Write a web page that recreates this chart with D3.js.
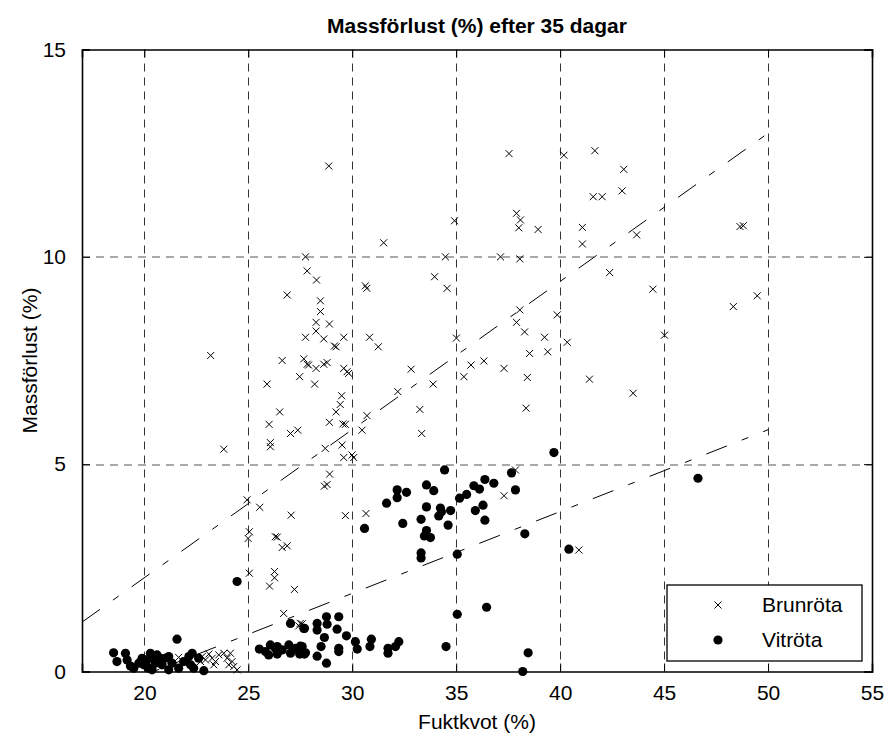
<!DOCTYPE html>
<html>
<head>
<meta charset="utf-8">
<script src="https://cdn.jsdelivr.net/npm/d3@7"></script>
<style>
  body { margin: 0; background: #fff; }
</style>
</head>
<body>
<div id="chart"></div>
<script>
// Axis ticks
var xTicks = [20, 25, 30, 35, 40, 45, 50, 55];
var yTicks = [0, 5, 10, 15];

// Brunröta (crosses)
var brunX = [28.87, 27.75, 27.83, 28.28, 30.63, 30.70, 26.87, 28.47, 28.47, 28.26,
  28.90, 28.26, 27.75, 28.63, 29.59, 29.14, 29.22, 30.83, 31.25, 23.19,
  26.63, 27.67, 27.83, 27.90, 28.26, 28.63, 28.79, 29.59, 29.75, 29.83,
  27.47, 32.83, 25.90, 28.19, 32.19, 33.25, 33.34, 29.49, 29.42, 29.22,
  26.51, 30.71, 26.00, 28.90, 29.55, 29.67, 27.03, 27.38, 30.47, 26.06,
  26.06, 23.82, 28.70, 29.51, 33.89, 38.36, 29.59, 29.99, 30.07, 28.91,
  28.66, 28.79, 29.67, 30.66, 37.30, 37.85, 27.50, 31.51, 34.48, 33.96,
  34.56, 35.01, 35.71, 36.33, 35.37, 34.92, 37.54, 40.18, 41.67, 43.06,
  41.59, 42.02, 42.98, 37.90, 38.09, 38.01, 38.94, 41.07, 41.07, 43.68,
  48.65, 48.81, 37.13, 38.06, 42.38, 44.46, 48.33, 38.06, 37.90, 38.29,
  39.86, 39.25, 40.34, 39.40, 38.53, 37.30, 38.42, 41.41, 43.51, 45.02,
  49.48, 40.90, 25.55, 27.06, 25.05, 24.99, 26.30, 26.39, 26.63, 26.87,
  25.05, 26.26, 26.26, 26.02, 27.22, 26.70, 27.43, 27.59, 24.94, 21.65,
  22.78, 22.94, 23.10, 23.26, 23.42, 23.34, 23.58, 23.82, 23.98, 24.14,
  24.22, 24.06, 24.30, 24.46, 22.70];
var brunY = [12.19, 10.00, 9.66, 9.44, 9.30, 9.24, 9.08, 8.94, 8.68, 8.42,
  8.38, 8.21, 8.06, 8.02, 8.06, 7.85, 7.83, 8.06, 7.83, 7.62,
  7.50, 7.54, 7.41, 7.39, 7.31, 7.41, 7.45, 7.31, 7.23, 7.19,
  7.11, 7.29, 6.93, 6.93, 6.75, 6.32, 5.74, 6.65, 6.44, 6.26,
  6.26, 6.17, 5.96, 6.01, 5.97, 5.96, 5.74, 5.82, 5.82, 5.52,
  5.42, 5.36, 5.38, 5.46, 6.93, 6.35, 5.16, 5.22, 5.16, 4.76,
  4.47, 4.51, 3.76, 3.81, 4.24, 4.86, 1.16, 10.34, 10.00, 9.52,
  9.24, 8.04, 7.39, 7.49, 7.11, 10.87, 12.49, 12.45, 12.56, 12.11,
  11.45, 11.45, 11.59, 11.05, 10.89, 10.70, 10.66, 10.71, 10.31, 10.53,
  10.73, 10.75, 10.00, 9.95, 9.62, 9.22, 8.80, 8.72, 8.42, 8.19,
  8.60, 8.06, 7.94, 7.71, 7.67, 7.31, 7.09, 7.05, 6.71, 8.11,
  9.06, 2.93, 3.96, 3.77, 3.37, 3.21, 3.25, 3.24, 2.99, 3.03,
  2.37, 2.41, 2.26, 2.06, 1.98, 1.40, 1.10, 1.15, 4.14, 0.34,
  0.36, 0.28, 0.42, 0.32, 0.24, 0.16, 0.40, 0.44, 0.32, 0.44,
  0.24, 0.16, 0.12, 0.04, 0.24];

// Vitröta (dots)
var vitX = [34.44, 37.66, 32.16, 32.61, 32.16, 31.65, 33.57, 33.92, 33.57, 33.31,
  34.24, 34.29, 34.16, 34.73, 34.61, 32.43, 33.57, 33.47, 33.76, 33.31,
  33.31, 30.59, 35.16, 35.50, 35.85, 36.12, 36.38, 36.81, 37.85, 36.29,
  35.92, 36.38, 38.30, 35.05, 35.05, 36.46, 34.51, 38.46, 38.20, 39.70,
  46.63, 40.42, 24.46, 21.57,
  28.76, 29.35, 28.31, 28.79, 27.70, 28.31, 29.27, 28.66, 29.72, 30.15,
  30.92, 32.24, 27.50, 28.50, 29.35, 29.35, 30.24, 30.85, 31.72, 31.72,
  32.08, 27.70, 28.31, 28.76, 27.03, 27.67,
  25.53, 25.82, 26.06, 26.30, 25.98, 26.39, 26.63, 26.95, 27.03, 27.27,
  27.59, 27.75, 27.47, 26.39,
  18.52, 18.68, 19.09, 19.17, 19.33, 19.49, 19.73, 19.89, 19.97, 20.13,
  20.29, 20.21, 20.37, 20.45, 20.53, 20.61, 20.77, 20.85, 21.01, 21.17,
  21.17, 21.33, 21.65, 21.89, 22.14, 22.22, 22.37, 22.30, 22.86, 22.61];
var vitY = [4.86, 4.79, 4.38, 4.32, 4.19, 4.06, 4.50, 4.36, 3.97, 3.67,
  3.94, 3.85, 3.75, 3.88, 3.53, 3.57, 3.40, 3.27, 3.23, 2.86,
  2.74, 3.45, 4.18, 4.27, 4.48, 4.40, 4.63, 4.54, 4.38, 4.01,
  3.88, 3.65, 3.32, 2.83, 1.38, 1.55, 0.60, 0.45, 0.00, 5.28,
  4.66, 2.95, 2.17, 0.78,
  1.32, 1.32, 1.16, 1.14, 1.04, 1.00, 1.02, 0.82, 0.86, 0.72,
  0.78, 0.72, 0.61, 0.60, 0.56, 0.48, 0.54, 0.60, 0.56, 0.44,
  0.60, 0.42, 0.37, 0.20, 1.16, 1.04,
  0.54, 0.48, 0.64, 0.56, 0.40, 0.42, 0.52, 0.64, 0.44, 0.56,
  0.60, 0.45, 0.42, 0.60,
  0.45, 0.24, 0.44, 0.28, 0.13, 0.08, 0.20, 0.32, 0.16, 0.28,
  0.44, 0.08, 0.04, 0.32, 0.20, 0.40, 0.32, 0.16, 0.32, 0.36,
  0.04, 0.20, 0.08, 0.24, 0.36, 0.16, 0.08, 0.44, 0.02, 0.32];

// Fitted lines (end points)
var brunFitX = [17, 50];
var brunFitY = [1.19, 12.98];
var vitFitX = [17, 50];
var vitFitY = [-0.68, 5.83];

var legendLabels = ['Brunröta', 'Vitröta'];

function Scatterplot() {

  var attrs = {
    svgWidth: 888,
    svgHeight: 737,
    marginTop: 49.5,
    marginBottom: 65.5,
    marginLeft: 82,
    marginRight: 16,
    xDomain: [17, 55],
    yDomain: [0, 15],
    container: '#chart',
    defaultFont: 'Arial, "Liberation Sans", sans-serif',
    fontSize: 21,
    tickLength: 8
  };

  var main = function () {
    var calc = {};
    calc.chartWidth = attrs.svgWidth - attrs.marginLeft - attrs.marginRight;
    calc.chartHeight = attrs.svgHeight - attrs.marginTop - attrs.marginBottom;

    var xScale = d3.scaleLinear().domain(attrs.xDomain).range([0, calc.chartWidth]);
    var yScale = d3.scaleLinear().domain(attrs.yDomain).range([calc.chartHeight, 0]);

    var svg = d3.select(attrs.container).append('svg')
      .attr('width', attrs.svgWidth)
      .attr('height', attrs.svgHeight)
      .attr('font-family', attrs.defaultFont);

    svg.append('defs').append('clipPath').attr('id', 'plot-clip')
      .append('rect')
      .attr('width', calc.chartWidth)
      .attr('height', calc.chartHeight);

    var chart = svg.append('g')
      .attr('transform', 'translate(' + attrs.marginLeft + ',' + attrs.marginTop + ')');

    // grid lines
    chart.append('g').selectAll('line')
      .data(xTicks.filter(d => d < attrs.xDomain[1]))
      .enter().append('line')
      .attr('x1', d => Math.round(xScale(d)) + 0.5)
      .attr('x2', d => Math.round(xScale(d)) + 0.5)
      .attr('y1', 0)
      .attr('y2', calc.chartHeight)
      .attr('stroke', '#333')
      .attr('stroke-dasharray', '8,6');

    chart.append('g').selectAll('line')
      .data(yTicks.filter(d => d > attrs.yDomain[0] && d < attrs.yDomain[1]))
      .enter().append('line')
      .attr('x1', 0)
      .attr('x2', calc.chartWidth)
      .attr('y1', d => Math.round(yScale(d)) + 0.5)
      .attr('y2', d => Math.round(yScale(d)) + 0.5)
      .attr('stroke', '#555')
      .attr('stroke-dasharray', '8,6');

    // fitted lines (dash-dot)
    var line = d3.line().x(d => xScale(d[0])).y(d => yScale(d[1]));
    var fits = [d3.zip(brunFitX, brunFitY), d3.zip(vitFitX, vitFitY)];
    chart.append('g').attr('clip-path', 'url(#plot-clip)')
      .selectAll('path')
      .data(fits)
      .enter().append('path')
      .attr('d', line)
      .attr('fill', 'none')
      .attr('stroke', '#000')
      .attr('stroke-width', 1)
      .attr('stroke-dasharray', '22,16,7,16');

    // axes: bottom, left, top, right (ticks inside)
    var xAxis = d3.axisBottom(xScale).tickValues(xTicks).tickSize(-attrs.tickLength).tickPadding(14);
    var yAxis = d3.axisLeft(yScale).tickValues(yTicks).tickSize(-attrs.tickLength).tickPadding(16);

    var gx = chart.append('g')
      .attr('transform', 'translate(0,' + calc.chartHeight + ')')
      .call(xAxis);
    var gy = chart.append('g').call(yAxis);
    var gxTop = chart.append('g')
      .call(d3.axisTop(xScale).tickValues(xTicks).tickSize(-attrs.tickLength).tickFormat(''));
    var gyRight = chart.append('g')
      .attr('transform', 'translate(' + calc.chartWidth + ',0)')
      .call(d3.axisRight(yScale).tickValues(yTicks).tickSize(-attrs.tickLength).tickFormat(''));

    [gx, gy, gxTop, gyRight].forEach(function (g) {
      g.select('.domain').attr('stroke', '#000').attr('stroke-width', 1.6);
      g.selectAll('.tick line').attr('stroke', '#000');
      g.selectAll('text')
        .attr('font-family', attrs.defaultFont)
        .attr('font-size', attrs.fontSize)
        .attr('fill', '#000');
    });

    // Brunröta crosses
    var crossPath = 'M-3.5,-3.5L3.5,3.5M-3.5,3.5L3.5,-3.5';
    chart.append('g').selectAll('path')
      .data(d3.zip(brunX, brunY))
      .enter().append('path')
      .attr('transform', d => 'translate(' + xScale(d[0]) + ',' + yScale(d[1]) + ')')
      .attr('d', crossPath)
      .attr('stroke', '#000')
      .attr('stroke-width', 1)
      .attr('fill', 'none');

    // Vitröta dots
    chart.append('g').selectAll('circle')
      .data(d3.zip(vitX, vitY))
      .enter().append('circle')
      .attr('cx', d => xScale(d[0]))
      .attr('cy', d => yScale(d[1]))
      .attr('r', 4.6)
      .attr('fill', '#000');

    // legend
    var legend = svg.append('g').attr('transform', 'translate(667,585)');
    legend.append('rect')
      .attr('width', 195)
      .attr('height', 76)
      .attr('fill', '#fff')
      .attr('stroke', '#000')
      .attr('stroke-width', 1.3);
    var items = legend.selectAll('.legend-item')
      .data(legendLabels)
      .enter().append('g')
      .attr('class', 'legend-item')
      .attr('transform', (d, i) => 'translate(0,' + (20 + i * 35) + ')');
    items.filter((d, i) => i === 0).append('path')
      .attr('transform', 'translate(51,0)')
      .attr('d', crossPath)
      .attr('stroke', '#000')
      .attr('fill', 'none');
    items.filter((d, i) => i === 1).append('circle')
      .attr('cx', 51)
      .attr('r', 4.6)
      .attr('fill', '#000');
    items.append('text')
      .attr('x', 95)
      .attr('dy', '0.35em')
      .attr('font-size', attrs.fontSize)
      .text(d => d);

    // title and labels
    svg.append('text')
      .attr('x', attrs.marginLeft + calc.chartWidth / 2)
      .attr('y', 33)
      .attr('text-anchor', 'middle')
      .attr('font-weight', 'bold')
      .attr('font-size', attrs.fontSize)
      .text('Massförlust (%) efter 35 dagar');

    svg.append('text')
      .attr('x', attrs.marginLeft + calc.chartWidth / 2)
      .attr('y', 729)
      .attr('text-anchor', 'middle')
      .attr('font-size', attrs.fontSize)
      .text('Fuktkvot (%)');

    svg.append('text')
      .attr('transform', 'translate(37,' + (attrs.marginTop + calc.chartHeight / 2) + ') rotate(-90)')
      .attr('text-anchor', 'middle')
      .attr('font-size', attrs.fontSize)
      .text('Massförlust (%)');
  };

  main.render = function () {
    main();
    return main;
  };

  return main;
}

Scatterplot().render();
</script>
</body>
</html>
